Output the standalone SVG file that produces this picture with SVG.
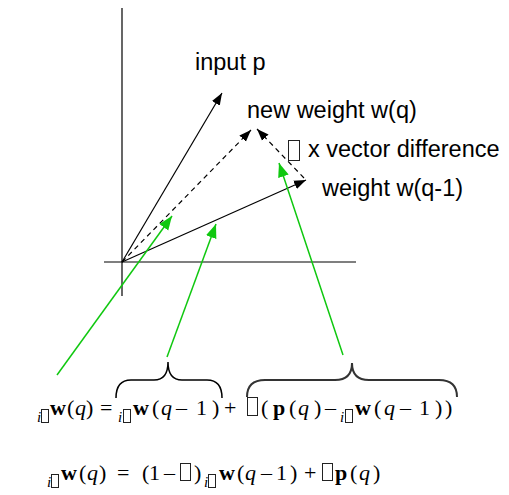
<svg xmlns="http://www.w3.org/2000/svg" width="509" height="495" viewBox="0 0 509 495">
<style>
.lbl{font-family:"Liberation Sans",Arial,sans-serif;font-size:23.5px;fill:#000}
.eq{font-family:"Liberation Serif","Times New Roman",serif;font-size:22px;fill:#000}
.b{font-weight:bold}
.it{font-style:italic}
.sub{font-style:italic;font-size:15px}
.box{fill:none;stroke:#222;stroke-width:1}
.ax{stroke:#000;stroke-width:1.2;fill:none}
.vec{stroke:#000;stroke-width:1.2;fill:none;marker-end:url(#ahb)}
.dash{stroke:#000;stroke-width:1.2;fill:none;stroke-dasharray:5,4;marker-end:url(#ahb)}
.gr{stroke:#10c810;stroke-width:1.5;fill:none;marker-end:url(#ahg)}
.brace{fill:none;stroke:#000;stroke-width:1.5}
</style>
<defs>
<marker id="ahb" markerWidth="13" markerHeight="10" refX="12" refY="5" orient="auto" markerUnits="userSpaceOnUse"><path d="M0,0.5 L12,5 L0,9.5 z" fill="#000"/></marker>
<marker id="ahg" markerWidth="15" markerHeight="12" refX="14" refY="6" orient="auto" markerUnits="userSpaceOnUse"><path d="M0,0.5 L14,6 L0,11.5 z" fill="#10c810"/></marker>
</defs>
<rect width="509" height="495" fill="#fff"/>
<g id="axes">
<line class="ax" x1="122" y1="8" x2="122" y2="296"/>
<line class="ax" x1="104" y1="262" x2="356" y2="262"/>
</g>
<g id="vectors">
<line class="vec" x1="122" y1="262" x2="222" y2="93"/>
<line class="vec" x1="122" y1="262" x2="306" y2="180"/>
<line class="dash" x1="122" y1="262" x2="251" y2="130"/>
<line class="dash" x1="304" y1="178" x2="257" y2="129"/>
</g>
<g id="label-input"><text class="lbl" x="195" y="70">input p</text></g>
<g id="label-new"><text class="lbl" x="247" y="118">new weight w(q)</text></g>
<g id="label-diff"><rect class="box" x="288.5" y="140.5" width="11" height="20"/><text class="lbl" x="308" y="157">x vector difference</text></g>
<g id="label-old"><text class="lbl" x="322" y="196">weight w(q-1)</text></g>
<g id="connectors">
<line class="gr" x1="57" y1="375" x2="172" y2="216"/>
<line class="gr" x1="167" y1="357" x2="216" y2="224"/>
<line class="gr" x1="343" y1="355" x2="279" y2="163"/>
</g>
<g id="braces">
<path class="brace" d="M116,398 Q116,380 131,380 L154,380 Q168,380 168,362 Q168,380 182,380 L207,380 Q222,380 222,398"/>
<path class="brace" d="M247,397 Q247,380 265,380 L335,380 Q352,380 352,363 Q352,380 369,380 L439,380 Q457,380 457,397" style="stroke:#333;stroke-width:2"/>
</g>
<g id="eq1">
<text class="eq"><tspan class="sub" x="37" y="422">i</tspan><tspan class="b" x="50" y="415">w</tspan><tspan x="67">(</tspan><tspan class="it" x="75">q</tspan><tspan x="86">)</tspan><tspan x="100">=</tspan><tspan class="sub" x="118" y="422">i</tspan><tspan class="b" x="133" y="415">w</tspan><tspan x="152">(</tspan><tspan class="it" x="161">q</tspan><tspan x="176">–</tspan><tspan x="196">1</tspan><tspan x="212">)</tspan><tspan x="224">+</tspan><tspan x="261">(</tspan><tspan class="b" x="273">p</tspan><tspan x="289">(</tspan><tspan class="it" x="298">q</tspan><tspan x="314">)</tspan><tspan x="325">–</tspan><tspan class="sub" x="340" y="422">i</tspan><tspan class="b" x="355" y="415">w</tspan><tspan x="374">(</tspan><tspan class="it" x="384">q</tspan><tspan x="400">–</tspan><tspan x="419">1</tspan><tspan x="435">)</tspan><tspan x="445">)</tspan></text>
<rect class="box" x="41.5" y="409.5" width="7" height="13"/>
<rect class="box" x="123.5" y="409.5" width="7" height="13"/>
<rect class="box" x="247.5" y="397.5" width="10" height="18"/>
<rect class="box" x="345.5" y="409.5" width="7" height="13"/>
</g>
<g id="eq2">
<text class="eq"><tspan class="sub" x="47" y="487">i</tspan><tspan class="b" x="61" y="480">w</tspan><tspan x="79">(</tspan><tspan class="it" x="87">q</tspan><tspan x="99">)</tspan><tspan x="117">=</tspan><tspan x="142">(</tspan><tspan x="149">1</tspan><tspan x="164">–</tspan><tspan x="194">)</tspan><tspan class="sub" x="204" y="487">i</tspan><tspan class="b" x="219" y="480">w</tspan><tspan x="237">(</tspan><tspan class="it" x="245">q</tspan><tspan x="261">–</tspan><tspan x="276">1</tspan><tspan x="290">)</tspan><tspan x="304">+</tspan><tspan class="b" x="335">p</tspan><tspan x="350">(</tspan><tspan class="it" x="359">q</tspan><tspan x="373">)</tspan></text>
<rect class="box" x="51.5" y="474.5" width="7" height="13"/>
<rect class="box" x="180.5" y="463.5" width="10" height="17"/>
<rect class="box" x="208.5" y="474.5" width="7" height="13"/>
<rect class="box" x="322.5" y="463.5" width="10" height="17"/>
</g>
</svg>
